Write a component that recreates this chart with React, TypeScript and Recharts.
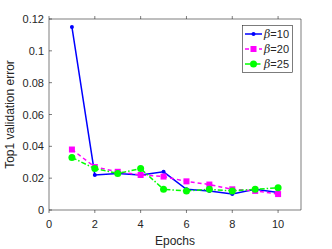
import React from 'react';
import { LineChart, Line, XAxis, YAxis } from 'recharts';

const epochs = [1, 2, 3, 4, 5, 6, 7, 8, 9, 10];
const beta10 = [0.115, 0.022, 0.023, 0.022, 0.024, 0.013, 0.012, 0.01, 0.013, 0.011];
const beta20 = [0.038, 0.027, 0.024, 0.022, 0.021, 0.018, 0.016, 0.013, 0.012, 0.01];
const beta25 = [0.033, 0.026, 0.023, 0.026, 0.013, 0.012, 0.013, 0.012, 0.013, 0.014];
const xTicks = [0, 2, 4, 6, 8, 10];
const yTicks = [0, 0.02, 0.04, 0.06, 0.08, 0.1, 0.12];
const seriesNames = ['10', '20', '25'];

const data = epochs.map((e, i) => ({ epoch: e, b10: beta10[i], b20: beta20[i], b25: beta25[i] }));

const AXIS = '#262626';
const FONT = 'Liberation Sans, Arial, sans-serif';

const BottomTick = (props: any) => {
  const { x, y, payload } = props;
  return (
    <g>
      <line x1={x} y1={y - 8} x2={x} y2={y - 5} stroke={AXIS} strokeWidth={0.6} />
      <text x={x} y={y + 10} textAnchor="middle" fontSize={11} fill={AXIS} fontFamily={FONT}>
        {payload.value}
      </text>
    </g>
  );
};

const LeftTick = (props: any) => {
  const { x, y, payload } = props;
  return (
    <g>
      <line x1={x + 8} y1={y} x2={x + 11} y2={y} stroke={AXIS} strokeWidth={0.6} />
      <text x={x + 3} y={y + 4} textAnchor="end" fontSize={11} fill={AXIS} fontFamily={FONT}>
        {payload.value}
      </text>
    </g>
  );
};

const TopTick = (props: any) => {
  const { x, y } = props;
  return <line x1={x} y1={y + 8} x2={x} y2={y + 5} stroke={AXIS} strokeWidth={0.6} />;
};

const RightTick = (props: any) => {
  const { x, y } = props;
  return <line x1={x - 8} y1={y} x2={x - 11} y2={y} stroke={AXIS} strokeWidth={0.6} />;
};

const YLabel = (props: any) => {
  const vb = props.viewBox || {};
  const cy = (vb.y || 0) + (vb.height || 0) / 2;
  return (
    <text
      x={14}
      y={cy}
      transform={`rotate(-90 14 ${cy})`}
      textAnchor="middle"
      fontSize={12}
      fill={AXIS}
      fontFamily={FONT}
    >
      Top1 validation error
    </text>
  );
};

const SmallDot = (props: any) => <circle key={props.index} cx={props.cx} cy={props.cy} r={2} fill="#0000ff" />;
const SquareDot = (props: any) => (
  <rect key={props.index} x={props.cx - 3} y={props.cy - 3} width={6} height={6} fill="#ff00ff" />
);
const BigDot = (props: any) => <circle key={props.index} cx={props.cx} cy={props.cy} r={3.5} fill="#00ff00" />;

const LegendBox = () => {
  const rows = [
    { color: '#0000ff', dash: undefined, marker: 'dot' },
    { color: '#ff00ff', dash: '4 3', marker: 'square' },
    { color: '#00ff00', dash: '5 2 1.5 2', marker: 'circle' },
  ];
  return (
    <svg width={52} height={49} style={{ position: 'absolute', left: 242, top: 25 }}>
      <rect x={0.5} y={0.5} width={50} height={47} fill="#fff" stroke={AXIS} strokeWidth={0.6} />
      {rows.map((r, i) => {
        const cy = 9 + i * 15;
        return (
          <g key={i}>
            <line x1={3} y1={cy} x2={20} y2={cy} stroke={r.color} strokeWidth={1.5} strokeDasharray={r.dash} />
            {r.marker === 'dot' && <circle cx={11.5} cy={cy} r={2} fill={r.color} />}
            {r.marker === 'square' && <rect x={8.5} y={cy - 3} width={6} height={6} fill={r.color} />}
            {r.marker === 'circle' && <circle cx={11.5} cy={cy} r={3.5} fill={r.color} />}
            <text x={22} y={cy + 4} fontSize={11} fill={AXIS} fontFamily={FONT}>
              <tspan fontStyle="italic" fontFamily="DejaVu Serif, serif">β</tspan>
              <tspan>={seriesNames[i]}</tspan>
            </text>
          </g>
        );
      })}
    </svg>
  );
};

export default function App() {
  return (
    <div style={{ position: 'absolute', left: 0, top: 0, width: 332, height: 249, background: '#fff' }}>
      <LineChart width={332} height={249} data={data} margin={{ top: 11, right: 23, left: 0, bottom: 0 }}>
        <XAxis
          dataKey="epoch"
          type="number"
          domain={[0, 11]}
          ticks={xTicks}
          interval={0}
          stroke={AXIS}
          strokeWidth={0.6}
          tickLine={false}
          tick={<BottomTick />}
          height={39}
          label={{ value: 'Epochs', position: 'insideBottom', offset: 4, fontSize: 12, fill: AXIS, fontFamily: FONT }}
        />
        <XAxis
          xAxisId="top"
          dataKey="epoch"
          type="number"
          orientation="top"
          domain={[0, 11]}
          ticks={xTicks}
          interval={0}
          stroke={AXIS}
          strokeWidth={0.6}
          tickLine={false}
          tick={<TopTick />}
          height={8}
        />
        <YAxis
          type="number"
          domain={[0, 0.12]}
          ticks={yTicks}
          interval={0}
          stroke={AXIS}
          strokeWidth={0.6}
          tickLine={false}
          tick={<LeftTick />}
          width={49}
          label={<YLabel />}
        />
        <YAxis
          yAxisId="right"
          type="number"
          orientation="right"
          domain={[0, 0.12]}
          ticks={yTicks}
          interval={0}
          stroke={AXIS}
          strokeWidth={0.6}
          tickLine={false}
          tick={<RightTick />}
          width={8}
        />
        <Line dataKey="b10" stroke="#0000ff" strokeWidth={1.5} dot={<SmallDot />} isAnimationActive={false} />
        <Line dataKey="b20" stroke="#ff00ff" strokeWidth={1.5} strokeDasharray="4 3" dot={<SquareDot />} isAnimationActive={false} />
        <Line dataKey="b25" stroke="#00ff00" strokeWidth={1.5} strokeDasharray="5 2 1.5 2" dot={<BigDot />} isAnimationActive={false} />
      </LineChart>
      <LegendBox />
    </div>
  );
}
